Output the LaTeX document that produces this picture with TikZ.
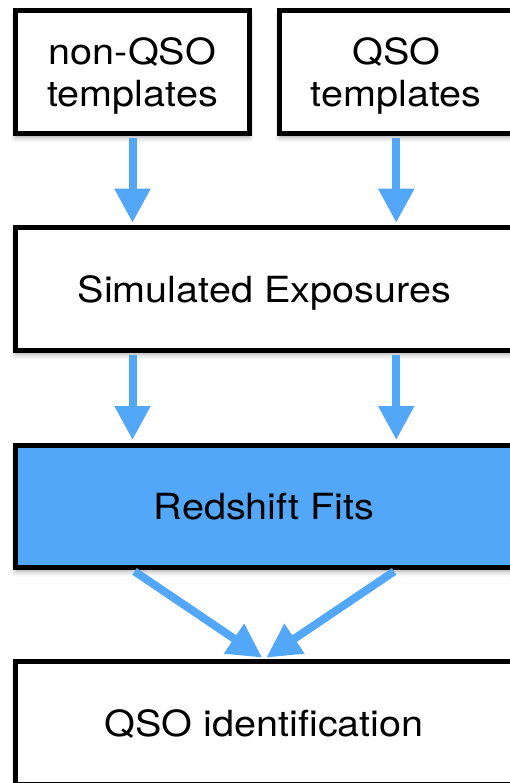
\documentclass[tikz,border=0pt]{standalone}
\usepackage{fontspec}
\setmainfont[FakeStretch=1.1]{TeX Gyre Heros}
\usetikzlibrary{arrows.meta,shadows.blur}
\definecolor{flowblue}{RGB}{82,167,249}
\tikzset{
  box/.style={draw=black, line width=5pt, fill=white, rectangle, inner sep=0pt,
    minimum height=122.5pt, align=center, text depth=0pt,
    font=\fontsize{36}{42}\selectfont,
    blur shadow={shadow xshift=0pt, shadow yshift=-4pt, shadow blur radius=5pt, shadow opacity=35}},
  flow/.style={draw=flowblue, line width=8pt,
    -{Triangle[width=34pt,length=34pt]}, shorten >=2.5pt, shorten <=2.5pt}
}
\begin{document}
\begin{tikzpicture}[x=1pt,y=-1pt]
\useasboundingbox (0,0) rectangle (509,783);
\node[box, minimum width=234pt] (nonqso) at (132.5,72.25) {non-QSO\\templates};
\node[box, minimum width=233.5pt] (qsot) at (396.25,72.25) {QSO\\templates};
\node[box, minimum width=497.5pt] (sim) at (264.25,289) {Simulated Exposures};
\node[box, minimum width=497.5pt, fill=flowblue] (red) at (264.25,506.25) {Redshift Fits};
\node[box, minimum width=497.5pt] (qsoid) at (264.25,722.75) {QSO identification};
\draw[flow] (nonqso.south) -- (sim.north -| nonqso.south);
\draw[flow] (qsot.south) -- (sim.north -| qsot.south);
\draw[flow] (sim.south -| nonqso.south) -- (red.north -| nonqso.south);
\draw[flow] (sim.south -| qsot.south) -- (red.north -| qsot.south);
\draw[flow] (red.south -| nonqso.south) -- (qsoid.north);
\draw[flow] (red.south -| qsot.south) -- (qsoid.north);
\end{tikzpicture}
\end{document}
